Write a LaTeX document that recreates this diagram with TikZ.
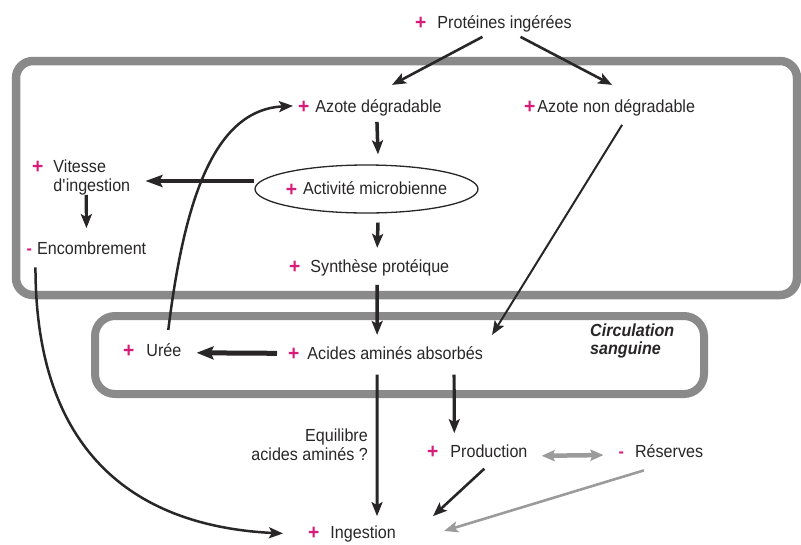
\documentclass[tikz,border=0pt]{standalone}
\usepackage{fontspec}
\setmainfont{Liberation Sans}[FakeStretch=0.92]
\usepackage{xcolor}
\usetikzlibrary{arrows.meta,shapes.geometric}

\definecolor{sgn}{RGB}{214,28,120}
\definecolor{boxgray}{RGB}{138,138,138}
\definecolor{arrgray}{RGB}{155,155,155}
\definecolor{txt}{RGB}{40,38,38}
\newcommand\sgnplus{\raisebox{-1.5pt}{\textcolor{sgn}{\fontsize{21}{21}\selectfont\textbf{+}}}}
\newcommand\sgnminus{\textcolor{sgn}{\textbf{-}}}

\begin{document}
\begin{tikzpicture}[x=1pt, y=-1pt, >={Stealth[length=14pt,width=11pt,inset=3pt]},
  lbl/.style={anchor=base west, inner sep=0pt, text=txt,
    font=\fontsize{17.5}{19}\selectfont},
  multi/.style={inner sep=0pt, text=txt, font=\fontsize{17.5}{19}\selectfont},
  zone/.style={draw=boxgray, line width=8.5pt, rounded corners=17pt},
  flux/.style={draw=txt, ->, line width=#1},
  flux/.default=3.5pt,
  grisflux/.style={draw=arrgray, line width=#1}
]
\useasboundingbox (0,0) rectangle (801,544);

% compartments
\draw[zone] (16,61) rectangle (797,295);
\draw[zone, line width=8pt, rounded corners=20pt] (95,316) rectangle (704,394);

\node[lbl] (prot) at (415,28) {\sgnplus\hspace{11pt}Protéines ingérées};
\node[lbl] (azd) at (298,112) {\sgnplus\hspace{6pt}Azote dégradable};
\node[lbl] (azn) at (524,112) {\sgnplus\hspace{2pt}Azote non dégradable};
\node[multi, draw=txt, line width=1.3pt, ellipse, inner xsep=-3pt,
  minimum width=223pt, minimum height=48pt] (act) at (366.5,189)
  {\sgnplus\hspace{6pt}Activité microbienne};
\node[multi, anchor=west, align=left] (vit) at (32,177)
  {\sgnplus\hspace{10pt}Vitesse\\\phantom{\sgnplus}\hspace{10pt}d\textquotesingle ingestion};
\node[lbl] (enc) at (26.5,254) {\sgnminus\hspace{5pt}Encombrement};
\node[lbl] (syn) at (289,272) {\sgnplus\hspace{10pt}Synthèse protéique};
\node[lbl] (uree) at (123,356) {\sgnplus\hspace{12pt}Urée};
\node[lbl] (aaa) at (288,359) {\sgnplus\hspace{8pt}Acides aminés absorbés};
\node[multi, anchor=west, align=left,
  font=\fontsize{17.5}{18}\selectfont\bfseries\itshape] (circ) at (590,341)
  {Circulation\\sanguine};
\node[multi, anchor=east, align=right] (equi) at (368,445)
  {Equilibre\\acides aminés ?};
\node[lbl] (prod) at (427,457) {\sgnplus\hspace{12pt}Production};
\node[lbl] (res) at (618.5,457) {\sgnminus\hspace{11pt}Réserves};
\node[lbl] (ing) at (308,538) {\sgnplus\hspace{11pt}Ingestion};

% flows in the rumen
\draw[flux=2.6pt] ([xshift=-11pt,yshift=-5pt]prot.south) -- ([xshift=22pt,yshift=14pt]azd.north);
\draw[flux=2.6pt] ([xshift=27pt,yshift=-5pt]prot.south) -- ([xshift=2.5pt,yshift=14pt]azn.north);
\draw[flux] ([xshift=7pt,yshift=-6pt]azd.south) -- ([xshift=11.5pt,yshift=10pt]act.north);
\draw[flux=4.5pt, -{Stealth[length=17pt,width=12pt,inset=3pt]}]
  ([yshift=8pt]act.west) -- ([xshift=15pt,yshift=-4pt]vit.east);
\draw[flux=3.2pt] ([xshift=5pt]vit.south) -- ([yshift=13pt]enc.north);
\draw[flux] ([xshift=11.5pt,yshift=-9pt]act.south) -- ([xshift=8pt,yshift=11pt]syn.north);
\draw[flux] ([xshift=8pt,yshift=-9pt]syn.south) -- ([xshift=-8.4pt,yshift=11pt]aaa.north);
\draw[flux=2pt] ([xshift=12.5pt,yshift=-9pt]azn.south) -- ([xshift=9pt,yshift=11pt]aaa.north east);

% blood
\draw[flux=5pt, -{Stealth[length=17pt,width=13pt,inset=3pt]}]
  ([xshift=-11pt]aaa.west) -- ([xshift=15pt,yshift=-2.5pt]uree.east);
\draw[flux=2.5pt] ([xshift=16pt,yshift=13pt]uree.north)
  .. controls +(16,-130) and +(-79,4) .. ([xshift=-5pt,yshift=1.5pt]azd.west);
\draw[flux=2.5pt] ([xshift=-51pt,yshift=-13pt]enc.south)
  .. controls +(0,189) and +(-144,-7) .. ([xshift=-25pt]ing.west);
\draw[flux=3pt] ([xshift=-8.4pt,yshift=-14pt]aaa.south) -- ([xshift=25pt,yshift=9pt]ing.north);
\draw[flux=3.2pt] ([xshift=-29pt,yshift=-14pt]aaa.south east) -- ([xshift=-23pt,yshift=11pt]prod.north);

% production / reserves
\draw[grisflux=4.5pt, {Stealth[length=13pt,width=11pt,inset=2pt]}-{Stealth[length=13pt,width=11pt,inset=2pt]}]
  ([xshift=14pt,yshift=-4.4pt]prod.east) -- ([xshift=-15pt,yshift=-4.4pt]res.west);
\draw[flux=2.6pt] ([xshift=7pt,yshift=-10pt]prod.south) -- ([xshift=37pt,yshift=9pt]ing.north east);
\draw[grisflux=2.6pt, ->] ([xshift=-17pt,yshift=-13pt]res.south) -- ([xshift=48pt,yshift=2.5pt]ing.east);
\end{tikzpicture}
\end{document}
